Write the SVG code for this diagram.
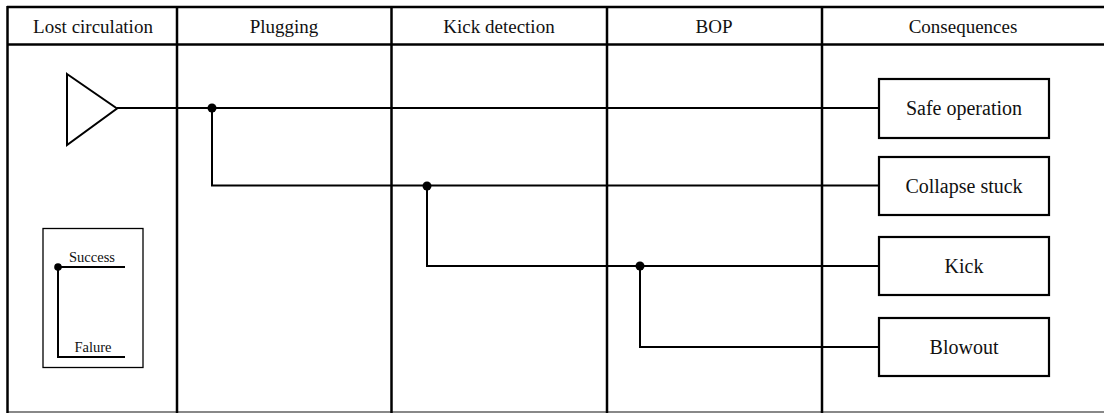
<svg xmlns="http://www.w3.org/2000/svg" width="1104" height="414" viewBox="0 0 1104 414" font-family="Liberation Serif, Times New Roman, serif">
  <style>
    text { fill: #111; text-anchor: middle; }
    .hdr { font-size: 19px; }
    .lbl { font-size: 20px; }
    .leg { font-size: 14.5px; }
    .grid { stroke: #000; stroke-width: 2.5; fill: none; }
    .wire { stroke: #000; stroke-width: 2; fill: none; }
    .box { fill: #fff; stroke: #000; stroke-width: 2.2; }
    .dot { fill: #000; }
  </style>
  <rect width="1104" height="414" fill="#fff"/>

  <!-- table frame and column dividers -->
  <g id="table">
    <line class="grid" x1="7" y1="7" x2="1104" y2="7" stroke-width="2"/>
    <line class="grid" x1="7" y1="44.5" x2="1104" y2="44.5" stroke-width="3"/>
    <line x1="7" y1="412" x2="1104" y2="412" stroke="#888" stroke-width="2"/>
    <line class="grid" x1="7.5" y1="6" x2="7.5" y2="413"/>
    <line class="grid" x1="177" y1="7" x2="177" y2="413"/>
    <line class="grid" x1="391.5" y1="7" x2="391.5" y2="413"/>
    <line class="grid" x1="607" y1="7" x2="607" y2="413"/>
    <line class="grid" x1="822" y1="7" x2="822" y2="413"/>
    <text class="hdr" x="93" y="33" font-family="Liberation Serif, serif">Lost circulation</text>
    <text class="hdr" x="284" y="33" font-family="Liberation Serif, serif">Plugging</text>
    <text class="hdr" x="499" y="33" font-family="Liberation Serif, serif">Kick detection</text>
    <text class="hdr" x="714" y="33" font-family="Liberation Serif, serif">BOP</text>
    <text class="hdr" x="963" y="33" font-family="Liberation Serif, serif">Consequences</text>
  </g>

  <!-- branch connectors -->
  <g id="connectors">
    <polyline class="wire" points="117,108 879,108"/>
    <polyline class="wire" points="212,108 212,185.5 879,185.5"/>
    <polyline class="wire" points="427,185.5 427,266 879,266"/>
    <polyline class="wire" points="640,266 640,347 879,347"/>
    <circle class="dot" cx="212" cy="108" r="4.5"/>
    <circle class="dot" cx="427" cy="186" r="4.5"/>
    <circle class="dot" cx="640" cy="266" r="4.5"/>
  </g>

  <!-- initiating event -->
  <g id="initiator">
    <polygon points="67,74 117,108.5 67,145" fill="#fff" stroke="#000" stroke-width="2"/>
  </g>

  <!-- outcome nodes -->
  <g id="safe-operation">
    <rect class="box" x="879" y="79" width="170" height="59"/>
    <text class="lbl" x="964" y="115" font-family="Liberation Serif, serif">Safe operation</text>
  </g>
  <g id="collapse-stuck">
    <rect class="box" x="879" y="157" width="170" height="58"/>
    <text class="lbl" x="964" y="193" font-family="Liberation Serif, serif">Collapse stuck</text>
  </g>
  <g id="kick">
    <rect class="box" x="879" y="237" width="170" height="58"/>
    <text class="lbl" x="964" y="273" font-family="Liberation Serif, serif">Kick</text>
  </g>
  <g id="blowout">
    <rect class="box" x="879" y="318" width="170" height="58"/>
    <text class="lbl" x="964" y="354" font-family="Liberation Serif, serif">Blowout</text>
  </g>

  <!-- legend -->
  <g id="legend">
    <rect x="43" y="228.5" width="100" height="139" fill="#fff" stroke="#000" stroke-width="1.3"/>
    <polyline class="wire" points="125,267 58,267 58,357 125,357" stroke-width="1.6"/>
    <circle class="dot" cx="58" cy="267" r="3.8"/>
    <text class="leg" x="92" y="262" font-family="Liberation Serif, serif">Success</text>
    <text class="leg" x="93" y="352" font-family="Liberation Serif, serif">Falure</text>
  </g>
</svg>
